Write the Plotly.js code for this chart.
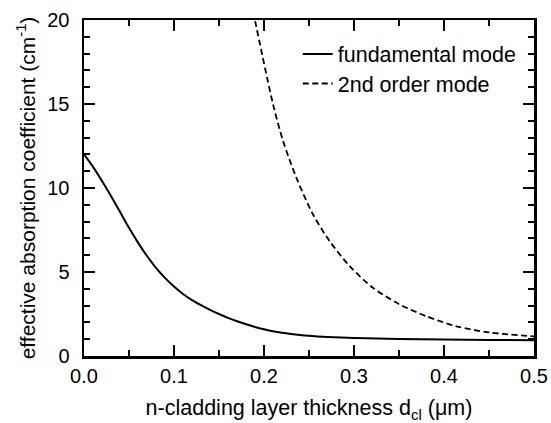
<!DOCTYPE html>
<html>
<head>
<meta charset="utf-8">
<script src="https://cdn.plot.ly/plotly-3.0.1.min.js"></script>
<style>html,body{margin:0;padding:0;background:#fff;}#chart{width:551px;height:423px;}</style>
</head>
<body>
<div id="chart"></div>
<script>
// Fundamental mode
const fundX = [0.0, 0.01, 0.02, 0.03, 0.04, 0.05, 0.06, 0.07, 0.08, 0.09, 0.10, 0.11, 0.12, 0.13, 0.14, 0.15, 0.16, 0.17, 0.18, 0.19, 0.20, 0.21, 0.22, 0.23, 0.24, 0.25, 0.27, 0.30, 0.35, 0.40, 0.45, 0.50];
const fundY = [12.0, 11.26, 10.42, 9.52, 8.58, 7.63, 6.75, 5.95, 5.25, 4.65, 4.13, 3.69, 3.33, 3.03, 2.75, 2.50, 2.27, 2.07, 1.89, 1.73, 1.59, 1.47, 1.38, 1.31, 1.25, 1.20, 1.13, 1.07, 1.01, 0.975, 0.955, 0.94];
// 2nd order mode
const secX = [0.188, 0.2101, 0.2212, 0.2361, 0.2545, 0.273, 0.2952, 0.3211, 0.3507, 0.3803, 0.4137, 0.4506, 0.5];
const secY = [20.5, 14.97, 12.8, 10.6, 8.42, 6.83, 5.35, 4.06, 3.07, 2.37, 1.77, 1.40, 1.17];
const names = ["fundamental mode", "2nd order mode"];
const xTitle = "n-cladding layer thickness d<sub>cl</sub> (μm)";
const yTitle = "effective absorption coefficient (cm<sup>-1</sup>)";

const font = "Arial, 'Liberation Sans', Helvetica, sans-serif";
const traces = [
  {x: fundX, y: fundY, type: "scatter", mode: "lines", name: names[0],
   line: {color: "#000", width: 2, shape: "spline", smoothing: 0.7}, legend: "legend"},
  {x: secX, y: secY, type: "scatter", mode: "lines", name: names[1],
   line: {color: "#000", width: 1.8, dash: "6px,3.5px", shape: "spline", smoothing: 0.8}, legend: "legend2"}
];
const axisCommon = {
  showgrid: false, zeroline: false, showline: true, linecolor: "#000", linewidth: 2.5,
  mirror: "allticks", ticks: "inside", ticklen: 11, tickwidth: 2, tickcolor: "#000",
  tickfont: {family: font, size: 20, color: "#000"}
};
const layout = {
  width: 551, height: 423,
  margin: {l: 84, r: 16.5, t: 20, b: 66.5},
  paper_bgcolor: "#fff", plot_bgcolor: "#fff",
  font: {family: font, color: "#000"},
  showlegend: true,
  xaxis: Object.assign({}, axisCommon, {
    range: [0, 0.5], dtick: 0.1, tickformat: ".1f",
    minor: {dtick: 0.05, ticks: "inside", ticklen: 6, tickwidth: 2, tickcolor: "#000"},
    title: {text: xTitle, font: {family: font, size: 21.5, color: "#000"}, standoff: 19}
  }),
  yaxis: Object.assign({}, axisCommon, {
    range: [0, 20], dtick: 5,
    minor: {dtick: 1, ticks: "inside", ticklen: 6, tickwidth: 2, tickcolor: "#000"},
    ticklabelstandoff: 8,
    title: {text: yTitle, font: {family: font, size: 21, color: "#000"}, standoff: 6}
  }),
  legend: {x: 0.475, y: 0.96, xanchor: "left", yanchor: "top", bgcolor: "rgba(0,0,0,0)",
           font: {family: font, size: 21.5, color: "#000"}},
  legend2: {x: 0.475, y: 0.872, xanchor: "left", yanchor: "top", bgcolor: "rgba(0,0,0,0)",
            font: {family: font, size: 21.5, color: "#000"}}
};
Plotly.newPlot("chart", traces, layout, {displayModeBar: false, staticPlot: true});
</script>
</body>
</html>
